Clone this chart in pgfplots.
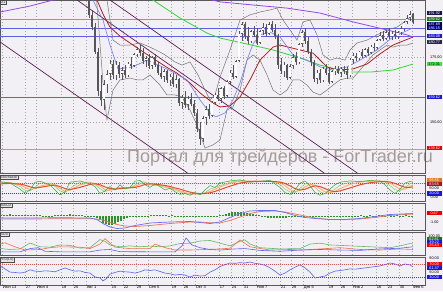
\documentclass[border=0pt]{standalone}
\usepackage{fontspec}
\setmainfont{Liberation Sans}
\usepackage{pgfplots}
\usepackage{pgfplotstable}
\pgfplotsset{compat=1.18}

\definecolor{bg}{RGB}{242,240,245}
\definecolor{chan}{RGB}{95,30,85}
\definecolor{mapurple}{RGB}{150,70,230}
\definecolor{magreen}{RGB}{50,215,50}
\definecolor{mared}{RGB}{175,30,30}
\definecolor{mablue}{RGB}{125,135,245}
\definecolor{bbgray}{RGB}{115,115,120}
\definecolor{hgreen}{RGB}{100,185,100}
\definecolor{hblue}{RGB}{95,95,230}
\definecolor{salmon}{RGB}{240,135,115}
\definecolor{wm}{RGB}{165,155,152}
\definecolor{navyA}{RGB}{20,20,70}
\definecolor{greenA}{RGB}{30,110,30}
\definecolor{navyB}{RGB}{0,0,110}
\definecolor{navyC}{RGB}{0,0,150}
\definecolor{blueA}{RGB}{25,25,210}
\definecolor{navyD}{RGB}{40,40,70}
\definecolor{limeA}{RGB}{60,230,60}
\definecolor{redA}{RGB}{230,0,0}
\definecolor{orangeA}{RGB}{225,120,30}
\definecolor{redB}{RGB}{170,20,20}
\definecolor{stg}{RGB}{60,165,60}
\definecolor{stlg}{RGB}{140,200,120}
\definecolor{sto}{RGB}{250,170,95}
\definecolor{str}{RGB}{232,75,40}
\definecolor{mcblue}{RGB}{110,110,240}
\definecolor{mcred}{RGB}{240,115,85}
\definecolor{histgreen}{RGB}{40,150,40}
\definecolor{adg}{RGB}{100,185,100}
\definecolor{adr}{RGB}{240,110,75}
\definecolor{adb}{RGB}{95,95,235}
\definecolor{candle}{RGB}{85,85,90}

\pgfplotstableread{
x o h l c
89 199.5 200.5 190.0 191.0
92 191.0 193.0 185.5 186.5
95 186.5 188.0 176.0 177.0
98 177.0 178.5 160.0 162.0
101 162.0 168.0 156.0 158.5
104 158.5 166.0 154.5 164.5
107 164.5 170.0 161.0 168.5
110 168.5 174.0 166.0 172.5
113 172.5 174.0 166.5 168.0
116 168.0 173.5 166.0 172.0
119 172.0 173.0 167.0 168.5
122 168.5 171.0 166.0 170.0
125 170.0 172.0 167.0 168.0
128 168.0 173.0 167.5 172.5
131 172.5 175.0 170.5 171.5
134 171.5 176.5 171.0 176.0
137 176.0 179.0 175.0 178.0
140 178.0 180.0 175.5 176.5
143 176.5 178.5 172.5 173.5
146 173.5 175.5 171.0 174.5
149 174.5 176.0 170.5 171.5
152 171.5 175.5 170.5 175.0
155 175.0 176.0 171.0 172.0
158 172.0 173.0 168.0 169.0
161 169.0 171.0 166.5 167.5
164 167.5 170.5 165.5 169.5
167 169.5 170.0 165.0 166.0
170 166.0 168.5 164.0 167.5
173 167.5 169.0 163.5 164.5
176 164.5 168.0 163.0 166.5
179 166.5 167.0 156.0 157.5
182 157.5 160.5 155.0 159.5
185 159.5 162.0 155.5 156.5
188 156.5 160.0 154.5 159.0
191 159.0 161.0 156.0 157.0
194 157.0 158.5 152.5 153.5
197 153.5 155.0 146.0 147.5
200 147.5 150.0 141.0 143.5
203 143.5 152.5 142.5 151.5
206 151.5 156.0 149.0 155.0
209 155.0 157.0 151.0 152.5
212 152.5 158.0 152.0 157.5
215 157.5 161.0 156.5 160.5
218 160.5 163.0 158.0 159.0
221 159.0 163.5 157.5 163.0
224 163.0 164.0 159.0 160.0
227 160.0 166.0 159.5 165.5
230 165.5 170.0 164.5 169.0
233 169.0 172.0 166.5 167.5
236 167.5 174.0 167.0 173.5
239 173.5 185.0 173.0 184.0
242 184.0 188.5 181.0 187.5
245 187.5 188.5 182.0 183.0
248 183.0 186.5 180.0 181.0
251 181.0 185.5 180.5 185.0
254 185.0 187.0 182.5 183.5
257 183.5 186.0 179.5 180.5
260 180.5 185.5 180.0 185.0
263 185.0 188.0 183.5 186.5
266 186.5 187.5 183.0 184.0
269 184.0 188.5 183.5 187.5
272 187.5 189.0 184.5 185.5
275 185.5 187.5 182.0 183.0
278 183.0 184.0 170.5 172.0
281 172.0 174.5 168.5 169.5
284 169.5 173.0 167.5 172.0
287 172.0 172.5 166.0 167.0
290 167.0 172.5 166.5 171.5
293 171.5 176.0 170.5 175.0
296 175.0 177.0 172.0 173.0
299 173.0 180.5 172.5 180.0
302 180.0 185.5 179.0 184.5
305 184.5 186.0 180.0 181.0
308 181.0 182.5 176.0 177.0
311 177.0 178.0 171.5 173.0
314 173.0 174.0 165.5 166.5
317 166.5 170.0 164.5 169.0
320 169.0 170.5 165.0 166.0
323 166.0 171.0 165.5 170.5
326 170.5 172.5 168.0 169.0
329 169.0 171.0 164.5 165.5
332 165.5 170.0 165.0 169.5
335 169.5 171.5 168.0 170.5
338 170.5 171.5 168.5 169.0
341 169.0 171.0 167.5 170.5
344 170.5 171.5 168.5 169.5
347 169.5 171.0 166.5 168.0
350 168.0 174.5 167.5 174.0
353 174.0 176.5 172.5 175.5
356 175.5 176.5 173.5 174.5
359 174.5 177.5 174.0 177.0
362 177.0 178.0 174.5 175.5
365 175.5 178.5 175.0 178.0
368 178.0 179.0 175.5 176.5
371 176.5 179.5 176.0 179.0
374 179.0 180.5 177.5 178.5
377 178.5 182.0 178.0 181.5
380 181.5 184.5 181.0 183.5
383 183.5 185.0 181.0 182.0
386 182.0 185.5 181.5 184.5
389 184.5 186.0 182.0 183.0
392 183.0 185.0 181.5 184.0
395 184.0 185.5 182.0 183.0
398 183.0 185.0 182.0 184.5
401 184.5 187.0 183.5 186.0
404 186.0 189.0 185.0 188.5
407 188.5 191.0 187.5 190.0
410 190.0 192.5 189.0 191.5
413 191.5 192.0 187.5 188.5
}\candles

\pgfplotstableread{
x g lg o r
0 88 85 80 75
10 80 84 82 78
20 45 60 70 74
25 22 38 55 68
30 40 35 42 58
35 85 55 48 52
40 90 80 62 55
50 70 80 75 65
55 40 60 68 68
60 12 35 48 60
65 30 25 32 48
70 85 50 40 42
80 92 85 70 55
90 75 85 82 72
95 60 72 78 76
100 20 48 62 70
105 35 30 42 58
110 60 42 38 48
115 40 50 45 45
120 70 55 52 48
125 45 55 55 51
130 55 52 53 53
135 90 68 60 55
140 95 88 75 62
145 70 85 82 72
150 55 70 78 76
155 75 65 70 73
160 60 65 67 70
165 40 55 62 66
170 50 48 52 60
175 30 40 45 52
180 15 28 35 45
185 20 20 25 36
190 10 16 18 28
195 25 18 17 22
200 12 18 18 19
205 40 25 22 20
210 65 45 32 24
215 55 55 45 32
220 80 65 58 42
230 92 85 78 62
240 98 94 90 80
250 85 90 92 88
260 90 88 90 90
270 95 92 91 90
280 55 72 82 86
285 25 45 65 78
290 15 28 42 64
295 40 25 30 48
300 80 50 38 40
305 92 75 58 44
310 65 80 72 56
315 25 55 68 64
320 10 30 48 60
325 20 18 30 48
330 45 25 24 36
335 70 45 32 30
340 85 68 48 35
350 92 85 72 52
360 88 90 85 70
370 95 92 90 82
380 90 92 92 88
385 70 85 88 89
390 40 65 80 86
395 20 42 62 78
400 45 35 45 66
405 80 55 45 56
410 90 75 60 55
413 85 82 70 58
}\stoch

\pgfplotstableread{
x b r
0 -0.3 -0.5
30 -0.3 -0.5
60 -0.25 -0.45
90 -0.3 -0.45
97 -0.6 -0.5
103 -1.4 -0.7
110 -2.1 -1.2
117 -2.4 -1.6
125 -2.3 -1.9
135 -1.8 -2.0
150 -1.3 -1.8
170 -1.1 -1.4
190 -1.0 -1.1
200 -1.2 -1.1
210 -1.4 -1.25
220 -1.1 -1.3
230 -0.2 -0.8
240 0.6 -0.1
250 1.1 0.6
260 1.2 1.0
275 1.2 1.1
285 0.8 0.9
295 0.2 0.5
305 -0.2 0.1
315 -0.4 -0.3
330 -0.6 -0.6
345 -0.6 -0.6
360 -0.4 -0.5
375 0.0 -0.2
390 0.4 0.2
413 0.6 0.5
}\macd

\pgfplotstableread{
x h
1 0.30
4 0.35
7 0.30
10 0.40
13 0.35
16 0.30
19 0.35
22 0.30
25 0.25
28 0.30
31 0.35
34 0.30
37 0.25
40 0.20
43 0.10
46 0.15
49 0.10
52 0.15
55 0.20
58 0.30
61 0.35
64 0.30
67 0.35
70 0.40
73 0.35
76 0.30
79 0.25
82 0.20
85 0.15
88 0.10
91 0.05
94 -0.10
97 -0.30
100 -0.80
103 -1.30
106 -1.60
109 -1.80
112 -1.70
115 -1.50
118 -1.20
121 -0.90
124 -0.60
127 -0.40
130 -0.20
133 -0.05
136 0.05
139 0.10
142 0.05
145 0.10
148 0.15
151 0.20
154 0.25
157 0.20
160 0.20
163 0.25
166 0.20
169 0.15
172 0.20
175 0.15
178 0.10
181 0.05
184 0.10
187 0.05
190 -0.10
193 -0.15
196 -0.10
199 -0.15
202 -0.20
205 -0.15
208 -0.10
211 -0.05
214 0.05
217 0.10
220 0.20
223 0.35
226 0.50
229 0.65
232 0.80
235 0.90
238 0.90
241 0.85
244 0.75
247 0.60
250 0.50
253 0.40
256 0.30
259 0.20
262 0.10
265 -0.20
268 -0.30
271 -0.35
274 -0.40
277 -0.40
280 -0.35
283 -0.30
286 -0.25
289 -0.20
292 -0.20
295 -0.15
298 -0.10
301 -0.10
304 -0.05
307 -0.05
310 -0.05
313 -0.05
316 -0.05
319 -0.05
322 -0.05
325 -0.05
328 -0.05
331 -0.05
334 -0.05
337 -0.05
340 -0.05
343 0.05
346 0.05
349 0.05
352 0.10
355 0.15
358 0.15
361 0.20
364 0.15
367 0.15
370 0.20
373 0.15
376 0.15
379 0.20
382 0.15
385 0.15
388 0.20
391 0.15
394 0.15
397 0.20
400 0.15
403 0.15
406 0.20
409 0.15
412 0.15
}\histo

\pgfplotstableread{
x v
0 64
5 55
10 45
15 44
20 42
25 45
30 52
35 48
40 47
45 49
50 48
55 46
60 52
65 58
70 52
75 48
80 49
85 44
90 42
95 30
100 27
103 18
106 24
110 39
115 44
120 48
125 46
130 45
135 42
140 46
145 52
150 50
155 52
160 47
165 42
170 40
175 36
180 38
185 36
190 30
195 36
200 33
205 34
210 45
215 52
220 62
225 68
230 73
235 72
240 74
245 73
250 76
255 72
260 70
265 66
270 58
275 48
280 36
285 42
290 52
295 60
300 67
305 58
310 45
315 27
320 30
325 33
330 42
335 48
340 50
345 52
350 55
355 54
360 56
365 58
370 60
375 62
380 64
385 68
390 73
395 70
400 64
405 70
410 67
413 61
}\rsi

\tikzset{
  lab/.style={anchor=west, inner sep=0pt, minimum width=15pt, minimum height=4.3pt,
    font=\fontsize{3.8}{3.8}\selectfont, text=white},
  tlab/.style={anchor=west, inner sep=0pt, minimum width=15pt, minimum height=4.3pt,
    font=\fontsize{3.8}{3.8}\selectfont, text=black},
  plab/.style={anchor=north west, fill=gray!22, draw=gray!60!black, line width=0.3pt,
    inner sep=0.6pt, font=\fontsize{3.6}{3.6}\selectfont, text=black!80},
}

\pgfplotsset{
  panel/.style={
    scale only axis, width=425pt, xmin=0, xmax=425,
    anchor=south west,
    axis line style={draw=black!65, line width=0.6pt},
    major tick length=0pt,
    xtick={2,25,36,61,73,86,111,123,136,148,171,183,195,219,231,243,256,280,291,303,328,340,352,376,387,399,412},
    xticklabels=\empty,
    ytick=\empty,
    xmajorgrids, ymajorgrids,
    major grid style={gray!70, line width=0.4pt, dash pattern=on 0.5pt off 2.5pt},
    every axis plot/.append style={line width=0.55pt},
  },
  labax/.style={anchor=south west, scale only axis, width=425pt,
    xmin=0, xmax=425, hide axis, clip=false},
}

\begin{document}
\begin{tikzpicture}
\fill[bg] (0pt,0pt) rectangle (443pt,291pt);
\node[anchor=base west, inner sep=0pt, text=wm, font=\fontsize{18}{18}\selectfont] at (127pt,128pt) {Портал для трейдеров - ForTrader.ru};

% ---------------- main price panel
\begin{axis}[panel, at={(0pt,118pt)}, height=173pt, ymin=130.4, ymax=196.92,
  ytick={150,175}, yticklabel pos=right,
  yticklabel style={font=\fontsize{3.8}{3.8}\selectfont, xshift=1.5pt,
    /pgf/number format/fixed, /pgf/number format/fixed zerofill,
    /pgf/number format/precision=2, /pgf/number format/assume math mode=true}]
\addplot[hgreen, line width=0.6pt] coordinates {(0,189.62) (425,189.62)};
\addplot[hblue, line width=0.6pt] coordinates {(0,186.15) (425,186.15)};
\addplot[hblue, line width=0.6pt] coordinates {(0,183.08) (425,183.08)};
\addplot[hblue, line width=0.6pt] coordinates {(0,159.62) (425,159.62)};
\addplot[salmon, line width=0.6pt] coordinates {(0,139.62) (425,139.62)};
\addplot[chan, line width=0.7pt] coordinates {(0,180.8) (190,129.7)};
\addplot[chan, line width=0.7pt] coordinates {(60,201.5) (330,128.8)};
\addplot[chan, line width=0.7pt] coordinates {(90,202.3) (365,128.3)};
\addplot[bbgray, line width=0.5pt] coordinates {(100,205) (107,196.9) (113,181.5) (120,179.6) (130,179.6) (140,180.4) (150,178.8) (160,176.9) (165,175.8) (175,173.1) (182,171.9) (190,173.1) (198,168.1) (205,162.3) (210,158.5) (215,160.4) (220,167.3) (230,177.7) (240,189.2) (250,191.2) (260,192.3) (270,193.1) (277,193.8) (283,189.2) (290,185.4) (297,181.5) (303,188.5) (310,189.2) (317,183.5) (323,175.8) (330,173.8) (337,174.6) (345,173.8) (350,177.7) (357,180.4) (367,181.5) (377,183.5) (387,185.4) (397,186.5) (407,189.2) (413,191.2)};
\addplot[bbgray, line width=0.5pt] coordinates {(95,205) (100,180) (104,160) (107,150.8) (113,162.3) (120,166.2) (130,166.9) (137,166.2) (143,166.2) (150,168.1) (160,164.2) (167,160.4) (175,160.4) (182,159.6) (190,154.6) (197,148.8) (205,140.0) (213,141.2) (220,143.1) (227,154.6) (233,155.8) (240,162.3) (247,173.8) (253,175.8) (260,173.8) (267,168.1) (273,162.3) (280,160.4) (287,162.3) (293,166.2) (300,166.2) (307,164.2) (313,161.5) (320,160.4) (327,162.3) (333,164.2) (340,166.2) (347,166.9) (353,166.9) (360,170.0) (367,173.1) (373,175.8) (380,177.7) (387,179.6) (393,178.8) (400,179.6) (407,179.6) (413,180.4)};
\addplot[mapurple, line width=0.8pt] coordinates {(0,192.3) (30,194.6) (53,196.9) (100,199.5) (160,199.5) (200,198) (220,196.2) (253,195.0) (287,193.8) (320,191.9) (353,188.5) (387,185.4) (407,183.5) (413,182.7)};
\addplot[magreen, line width=0.8pt] coordinates {(120,205) (153,196.9) (180,190) (207,184.2) (220,182.3) (247,180) (273,177.7) (300,174.6) (320,171.9) (347,169.2) (370,169.2) (393,170) (413,172.3)};
\addplot[mared, line width=0.8pt] coordinates {(92,200) (97,196.9) (103,191.5) (110,186.5) (120,183) (133,179.6) (145,176.5) (157,173.5) (167,171) (177,168.8) (190,165) (200,161.2) (213,157.3) (220,155.8) (230,156.2) (240,159.6) (250,166.2) (260,173.8) (273,178.8) (280,179.6) (300,177.7) (313,176.5) (327,171.2) (337,170) (353,170.4) (367,172.3) (380,176.2) (393,179.6) (413,182.7)};
\addplot[mablue, line width=0.7pt] coordinates {(90,200) (93,196.9) (103,189.2) (110,179.6) (118,170.4) (133,171.2) (147,173.8) (167,170.4) (187,166.2) (200,158.5) (210,153.5) (216,152) (225,153.5) (233,158.5) (240,165) (247,173.8) (253,180) (260,183.5) (270,184.6) (280,182.7) (293,175.8) (307,173.8) (320,171.2) (333,170) (347,171.2) (360,173.8) (377,177.7) (393,182.7) (413,186.2)};
\addplot[draw=none, forget plot, error bars/.cd, y dir=plus, y explicit, error mark=none,
  error bar style={draw=candle, line width=0.45pt}]
  table[x=x, y=l, y error plus expr=\thisrow{h}-\thisrow{l}] {\candles};
\addplot[draw=none, forget plot, error bars/.cd, y dir=plus, y explicit, error mark=none,
  error bar style={draw=candle, line width=2.3pt}]
  table[x=x, y expr={min(\thisrow{o},\thisrow{c})}, y error plus expr={max(abs(\thisrow{c}-\thisrow{o}),0.4)}] {\candles};
\addplot[draw=none, forget plot, error bars/.cd, y dir=plus, y explicit, error mark=none,
  error bar style={draw=white, line width=1.3pt}]
  table[x=x, y expr={\thisrow{o}+0.25}, y error plus expr={max(\thisrow{c}-\thisrow{o}-0.5,0)}] {\candles};
\end{axis}
\begin{axis}[labax, at={(0pt,118pt)}, height=173pt, ymin=130.4, ymax=196.92]
\node[plab] at (rel axis cs:0,1) {D1};
\node[lab, fill=navyA] at (axis cs:426.5,191.92) {191.92};
\node[lab, fill=greenA] at (axis cs:426.5,189.62) {189.62};
\node[lab, fill=navyB] at (axis cs:426.5,187.69) {187.69};
\node[lab, fill=navyC] at (axis cs:426.5,186.15) {186.15};
\node[lab, fill=blueA] at (axis cs:426.5,183.08) {183.08};
\node[lab, fill=navyD] at (axis cs:426.5,180.77) {180.77};
\node[lab, fill=limeA, text=black] at (axis cs:426.5,172.31) {172.31};
\node[lab, fill=blueA] at (axis cs:426.5,159.62) {159.62};
\node[lab, fill=redA] at (axis cs:426.5,140.0) {139.62};
\end{axis}

% ---------------- stochastic
\begin{axis}[panel, at={(0pt,90pt)}, height=26pt, ymin=-23, ymax=126]
\addplot[red!80, line width=0.5pt, dash pattern=on 0.8pt off 1.2pt] coordinates {(0,80) (425,80)};
\addplot[blue!80, line width=0.5pt, dash pattern=on 0.8pt off 1.2pt] coordinates {(0,20) (425,20)};
\addplot[stlg, line width=0.5pt] table[x=x, y=lg] {\stoch};
\addplot[sto, line width=0.8pt] table[x=x, y=o] {\stoch};
\addplot[str, line width=1.0pt] table[x=x, y=r] {\stoch};
\addplot[stg, line width=0.5pt] table[x=x, y=g] {\stoch};
\end{axis}
\begin{axis}[labax, at={(0pt,90pt)}, height=26pt, ymin=-23, ymax=126]
\node[plab] at (rel axis cs:0,1) {Stochastic};
\node[lab, fill=orangeA] at (axis cs:426.5,97) {96.85};
\node[lab, fill=redB] at (axis cs:426.5,74) {83.65};
\node[tlab] at (axis cs:426.5,50) {50.00};
\node[lab, fill=blueA] at (axis cs:426.5,20) {20.00};
\node[tlab] at (axis cs:426.5,0) {0.00};
\end{axis}

% ---------------- MACD
\begin{axis}[panel, at={(0pt,61pt)}, height=27pt, ymin=-2.7, ymax=2.7]
\addplot[histgreen, ycomb, line width=1.1pt] table[x=x, y=h] {\histo};
\addplot[mcred, line width=0.7pt] table[x=x, y=r] {\macd};
\addplot[mcblue, line width=0.7pt] table[x=x, y=b] {\macd};
\end{axis}
\begin{axis}[labax, at={(0pt,61pt)}, height=27pt, ymin=-2.7, ymax=2.7]
\node[plab] at (rel axis cs:0,1) {MACD};
\node[lab, fill=redA] at (axis cs:426.5,0.7) {0.67};
\node[tlab] at (axis cs:426.5,-1.1) {-1.00};
\end{axis}

% ---------------- ADX
\begin{axis}[panel, at={(0pt,36pt)}, height=23pt, ymin=-5.6, ymax=122]
\addplot[adg, line width=0.6pt] coordinates {(0,30) (10,25) (20,28) (30,61) (40,40) (50,38) (60,50) (70,48) (80,33) (90,35) (100,80) (105,70) (110,50) (120,40) (130,45) (140,40) (150,44) (160,40) (170,45) (180,58) (190,60) (200,72) (210,75) (220,60) (230,45) (240,70) (245,78) (250,55) (260,35) (280,28) (300,30) (310,55) (320,60) (330,50) (340,48) (350,45) (370,40) (390,35) (400,45) (410,58) (413,55)};
\addplot[adr, line width=0.6pt] coordinates {(0,55) (5,62) (15,40) (25,22) (40,25) (50,35) (60,40) (80,38) (90,30) (100,55) (105,85) (110,60) (115,38) (130,30) (150,30) (155,55) (165,35) (175,22) (190,22) (205,25) (220,28) (230,32) (240,78) (250,40) (270,22) (290,25) (300,22) (320,28) (340,35) (360,25) (380,22) (400,28) (413,25)};
\addplot[adb, line width=0.6pt] coordinates {(0,12) (20,12) (30,30) (38,35) (45,15) (60,12) (90,12) (100,22) (110,25) (120,13) (150,12) (175,12) (182,45) (186,89) (192,50) (200,35) (210,25) (220,22) (235,28) (245,30) (260,20) (280,15) (300,22) (320,25) (340,22) (360,20) (380,28) (400,32) (413,40)};
\end{axis}
\begin{axis}[labax, at={(0pt,36pt)}, height=23pt, ymin=-5.6, ymax=122]
\node[plab] at (rel axis cs:0,1) {ADX};
\node[tlab] at (axis cs:426.5,100) {100.00};
\node[lab, fill=greenA] at (axis cs:426.5,82) {62.81};
\node[lab, fill=blueA] at (axis cs:426.5,66) {39.22};
\node[lab, fill=redA] at (axis cs:426.5,50) {25.43};
\end{axis}

% ---------------- RSI
\begin{axis}[panel, at={(0pt,6pt)}, height=28pt, ymin=5.4, ymax=91.5,
  xticklabels={Июн 13,27,Июл 4,18,25,Авг 1,15,22,29,Сен 5,19,26,Окт 3,17,24,31,Ноя 7,21,28,Дек 5,19,26,Янв 2,16,23,30,Фев 6},
  xticklabel style={font=\fontsize{4}{4}\selectfont, anchor=north west, inner sep=0pt, yshift=-0.6pt, xshift=0.6pt}]
\addplot[red!75, line width=0.5pt, dash pattern=on 0.8pt off 1.2pt] coordinates {(0,70) (425,70)};
\addplot[blue!80, line width=0.5pt, dash pattern=on 0.8pt off 1.2pt] coordinates {(0,30) (425,30)};
\addplot[adb, line width=0.6pt] table[x=x, y=v] {\rsi};
\end{axis}
\begin{axis}[labax, at={(0pt,6pt)}, height=28pt, ymin=5.4, ymax=91.5]
\node[plab] at (rel axis cs:0,1) {RSI(14)};
\node[tlab] at (axis cs:426.5,89) {90.00};
\node[lab, fill=redA] at (axis cs:426.5,70) {70.00};
\node[lab, fill=blueA] at (axis cs:426.5,57) {61.37};
\node[tlab] at (axis cs:426.5,46) {50.00};
\node[lab, fill=blueA] at (axis cs:426.5,30) {30.00};
\end{axis}
\pgfresetboundingbox
\useasboundingbox (0pt,0pt) rectangle (443pt,291pt);
\end{tikzpicture}
\end{document}
